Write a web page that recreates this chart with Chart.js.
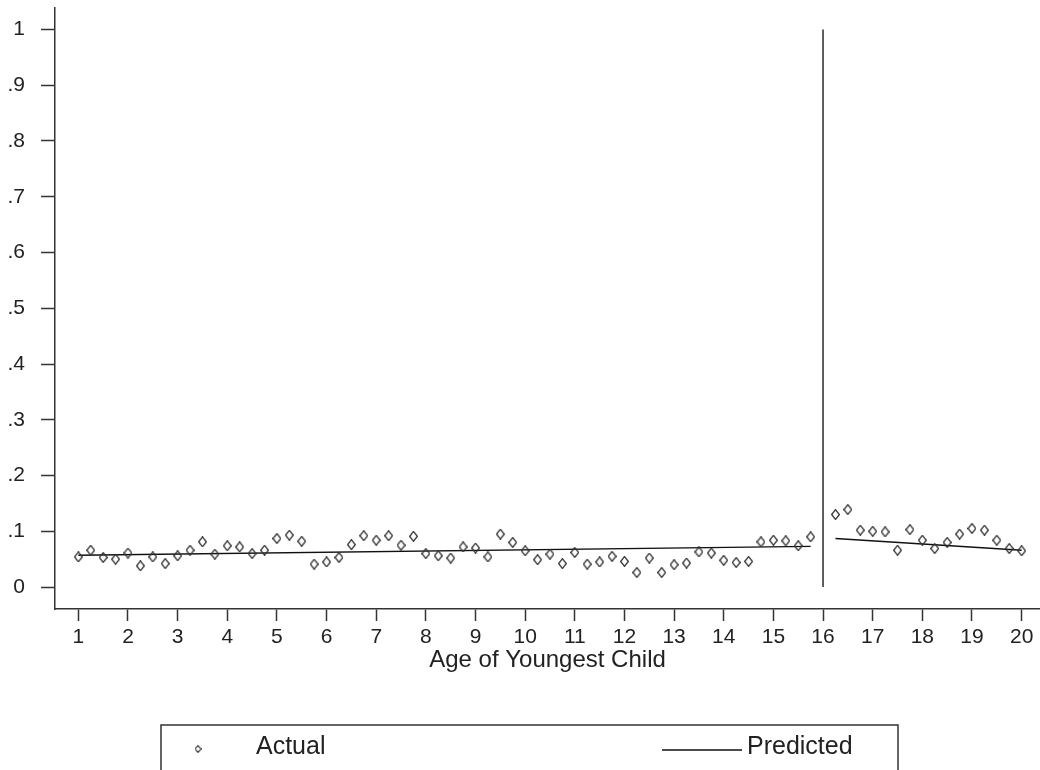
<!DOCTYPE html>
<html>
<head>
<meta charset="utf-8">
<script src="https://cdn.jsdelivr.net/npm/chart.js@4/dist/chart.umd.min.js"></script>
<style>
  html, body { margin: 0; padding: 0; background: #fff; }
  #wrap { width: 1040px; height: 770px; position: relative; }
</style>
</head>
<body>
<div id="wrap"><canvas id="chart"></canvas></div>
<script>
// ─── Data ──────────────────────────────────────────────────────
const actualAge = [
  1, 1.25, 1.5, 1.75, 2, 2.25, 2.5, 2.75, 3, 3.25, 3.5, 3.75,
  4, 4.25, 4.5, 4.75, 5, 5.25, 5.5, 5.75, 6, 6.25, 6.5, 6.75,
  7, 7.25, 7.5, 7.75, 8, 8.25, 8.5, 8.75, 9, 9.25, 9.5, 9.75,
  10, 10.25, 10.5, 10.75, 11, 11.25, 11.5, 11.75, 12, 12.25, 12.5, 12.75,
  13, 13.25, 13.5, 13.75, 14, 14.25, 14.5, 14.75, 15, 15.25, 15.5, 15.75,
  16.25, 16.5, 16.75, 17, 17.25, 17.5, 17.75, 18, 18.25, 18.5, 18.75,
  19, 19.25, 19.5, 19.75, 20
];
const actualRate = [
  .054, .066, .053, .050, .061, .038, .054, .042, .056, .066, .081, .059,
  .074, .072, .060, .066, .087, .093, .082, .041, .045, .053, .076, .092,
  .084, .092, .075, .091, .060, .056, .052, .072, .070, .054, .095, .080,
  .065, .049, .059, .042, .062, .041, .045, .055, .046, .026, .052, .026,
  .040, .043, .063, .061, .048, .044, .046, .081, .084, .083, .074, .090,
  .130, .139, .102, .100, .099, .066, .103, .084, .069, .080, .095,
  .105, .102, .084, .069, .065
];
const predAge  = [1, 15.75, 16, 16.25, 20];
const predRate = [0.057, 0.073, null, 0.087, 0.066];
const cutoffAge  = [16, 16];
const cutoffRate = [0, 1];

const xTickValues = [1, 2, 3, 4, 5, 6, 7, 8, 9, 10, 11, 12, 13, 14, 15, 16, 17, 18, 19, 20];
const yTickValues = [0, 0.1, 0.2, 0.3, 0.4, 0.5, 0.6, 0.7, 0.8, 0.9, 1];
const yTickLabels = ['0', '.1', '.2', '.3', '.4', '.5', '.6', '.7', '.8', '.9', '1'];
const legendLabels = ['Actual', 'Predicted'];
const xTitle = 'Age of Youngest Child';

const FONT = '"Liberation Sans", Arial, Helvetica, sans-serif';
const INK = '#222';
const AXIS = '#333';

Chart.defaults.font.family = FONT;
Chart.defaults.color = INK;

function makeDiamond(w, h, lw) {
    const c = document.createElement('canvas');
    c.width = w; c.height = h;
    const g = c.getContext('2d');
    g.strokeStyle = AXIS;
    g.lineWidth = lw;
    g.beginPath();
    g.moveTo(w / 2, lw / 2);
    g.lineTo(w - lw / 2, h / 2);
    g.lineTo(w / 2, h - lw / 2);
    g.lineTo(lw / 2, h / 2);
    g.closePath();
    g.stroke();
    return c;
}
const diamond = makeDiamond(9, 11, 1.3);
const smallDiamond = makeDiamond(7, 8, 1.1);

const toXY = (xs, ys) => xs.map((x, i) => ({ x, y: ys[i] }));

// ─── Stata-like boxed legend under the axis ────────────────────
const boxLegend = {
    id: 'boxLegend',
    afterDraw(chart) {
        const ctx = chart.ctx;
        ctx.save();
        ctx.strokeStyle = AXIS;
        ctx.lineWidth = 1.5;
        ctx.strokeRect(161, 725, 737, 70);

        ctx.drawImage(smallDiamond, 198 - 3.5, 749 - 4);

        ctx.fillStyle = INK;
        ctx.font = '25px ' + FONT;
        ctx.textBaseline = 'middle';
        ctx.textAlign = 'left';
        ctx.fillText(legendLabels[0], 256, 747);

        ctx.beginPath();
        ctx.strokeStyle = '#111';
        ctx.lineWidth = 1.3;
        ctx.moveTo(662, 750);
        ctx.lineTo(742, 750);
        ctx.stroke();
        ctx.fillText(legendLabels[1], 747, 747);
        ctx.restore();
    }
};

new Chart(document.getElementById('chart'), {
    type: 'scatter',
    data: {
        datasets: [
            {
                label: legendLabels[0],
                data: toXY(actualAge, actualRate),
                pointStyle: diamond,
                pointRadius: 5,
                showLine: false
            },
            {
                label: legendLabels[1],
                data: toXY(predAge, predRate),
                showLine: true,
                spanGaps: false,
                borderColor: '#111',
                borderWidth: 1.3,
                pointRadius: 0
            },
            {
                label: 'cutoff',
                data: toXY(cutoffAge, cutoffRate),
                showLine: true,
                borderColor: '#444',
                borderWidth: 1.7,
                pointRadius: 0
            }
        ]
    },
    options: {
        responsive: true,
        maintainAspectRatio: false,
        animation: false,
        layout: { autoPadding: false, padding: { top: 8, left: 0, right: 0, bottom: 95 } },
        plugins: {
            legend: { display: false },
            tooltip: { enabled: false }
        },
        scales: {
            x: {
                type: 'linear',
                min: 0.53,
                max: 20.37,
                afterBuildTicks: s => { s.ticks = xTickValues.map(v => ({ value: v })); },
                afterFit: s => { s.height = 66; s.paddingLeft = 0; s.paddingRight = 0; },
                grid: { drawOnChartArea: false, drawTicks: true, tickLength: 12, tickWidth: 1.5, tickColor: AXIS },
                border: { display: true, color: AXIS, width: 1.5 },
                ticks: { font: { size: 21 }, color: INK, padding: 4, maxRotation: 0, autoSkip: false },
                title: { display: true, text: xTitle, font: { size: 24 }, color: INK, padding: { top: 0, bottom: 0 } }
            },
            y: {
                min: -0.0394,
                max: 1.0385,
                afterBuildTicks: s => { s.ticks = yTickValues.map(v => ({ value: v })); },
                afterFit: s => { s.width = 55; s.paddingTop = 0; s.paddingBottom = 0; },
                grid: { drawOnChartArea: false, drawTicks: true, tickLength: 14, tickWidth: 1.5, tickColor: AXIS },
                border: { display: true, color: AXIS, width: 1.5 },
                ticks: { font: { size: 21 }, color: INK, padding: 16, callback: (v, i) => yTickLabels[i] }
            }
        }
    },
    plugins: [boxLegend]
});
</script>
</body>
</html>
